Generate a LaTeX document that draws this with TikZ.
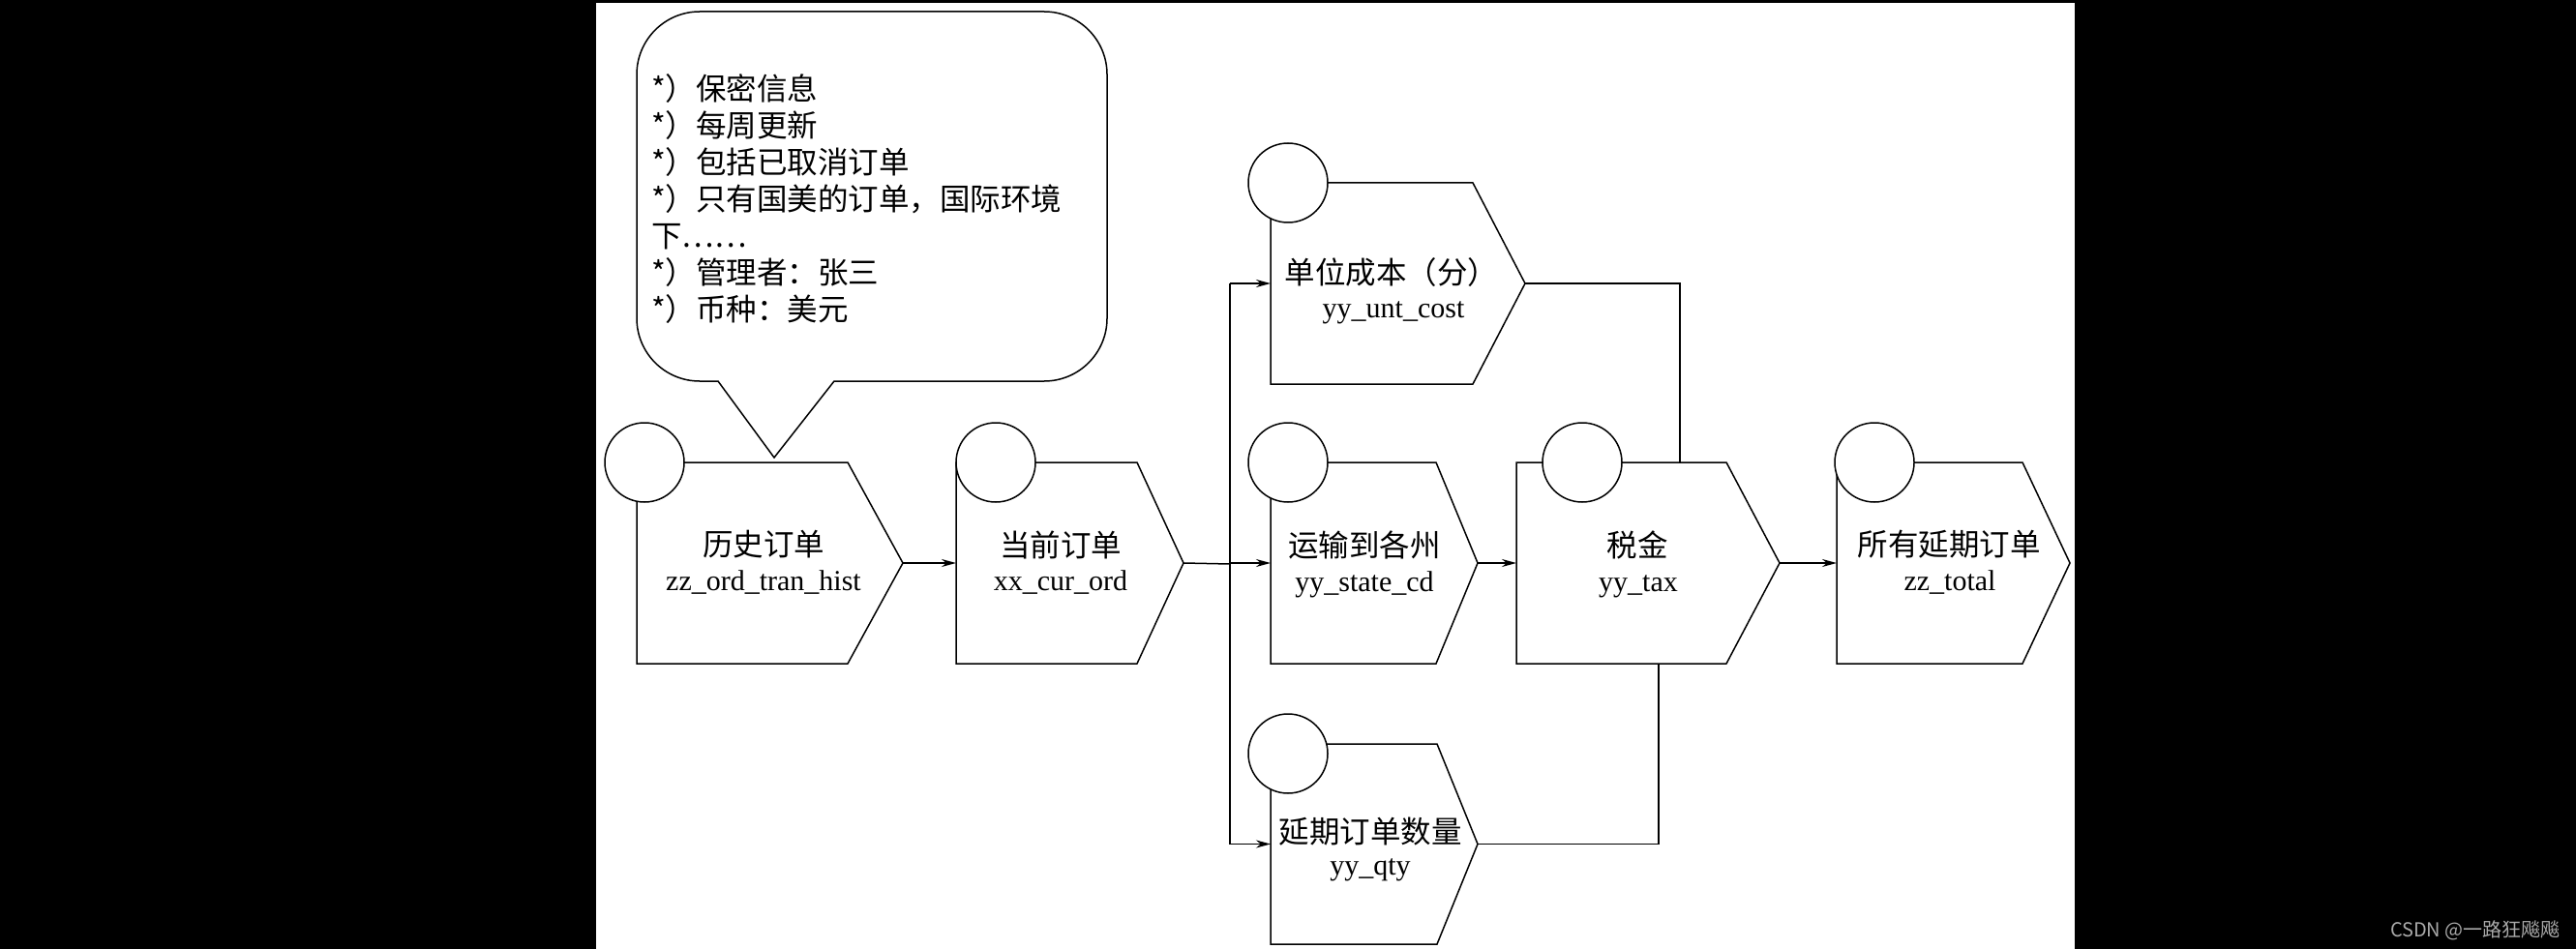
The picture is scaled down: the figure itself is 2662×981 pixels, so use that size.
\documentclass[tikz,border=0pt]{standalone}
\usepackage{fontspec}
\setmainfont{Liberation Serif}
\newfontfamily\cjk{Noto Sans CJK SC}
\usetikzlibrary{arrows.meta}
\definecolor{wmgray}{RGB}{170,170,170}
\tikzset{
  pent/.style={draw=black, line width=1.5pt, fill=white, line join=miter},
  circ/.style={circle, draw=black, line width=1.5pt, fill=white, minimum size=82pt, inner sep=0pt},
  cjkt/.style={font=\cjk\fontsize{31.5}{38}\selectfont, inner sep=0pt},
  latt/.style={font=\fontsize{30}{36}\selectfont, inner sep=0pt, anchor=base},
  conn/.style={line width=1.5pt, draw=black},
  arr/.style={conn, -{Stealth[length=15pt,width=8pt]}},
}
% #1 name, #2 left, #3 top, #4 bottom, #5 top-right x, #6 tip x, #7 circle x, #8 circle y
\newcommand{\mypenta}[8]{%
  \node[inner sep=0pt, outer sep=0pt, minimum width={(#5-#2)*1pt}, minimum height={(#4-#3)*1pt}, anchor=north west] (#1) at (#2,#3) {};
  \draw[pent] (#2,#3) -- (#5,#3) -- (#6,{(#3+#4)/2}) -- (#5,#4) -- (#2,#4) -- cycle;
  \coordinate (#1-tip) at (#6,{(#3+#4)/2});
  \node[circ] (#1-c) at (#7,#8) {};
}
\begin{document}
\begin{tikzpicture}[x=1pt,y=-1pt]
\useasboundingbox (0,0) rectangle (2662,981);
\fill[black] (0,0) rectangle (2662,981);
\fill[white] (616,3) rectangle (2144,981);

% callout bubble
\draw[line width=1.5pt] (742,394) -- (800,473) -- (862,394) -- (1079,394)
  arc[start angle=90,end angle=0,radius=65] -- (1144,77)
  arc[start angle=0,end angle=-90,radius=65] -- (723,12)
  arc[start angle=-90,end angle=-180,radius=65] -- (658,329)
  arc[start angle=180,end angle=90,radius=65] -- cycle;
\node[anchor=north west, inner sep=0pt, align=left, font=\cjk\fontsize{31.5}{38}\selectfont] (note) at (673,76)
  {*）保密信息\\*）每周更新\\*）包括已取消订单\\*）只有国美的订单，国际环境\\下……\\*）管理者：张三\\*）币种：美元};

% pentagon nodes
\mypenta{n1}{658}{478}{686}{876}{933}{666}{478}
\mypenta{n2}{988}{478}{686}{1175}{1223}{1029}{478}
\mypenta{n3}{1313}{189}{397}{1522}{1576}{1331}{189}
\mypenta{n4}{1313}{478}{686}{1484}{1527}{1331}{478}
\mypenta{n5}{1567}{478}{686}{1784}{1839}{1635}{478}
\mypenta{n6}{1313}{769}{976}{1485}{1527}{1331}{779}
\mypenta{n7}{1898}{478}{686}{2090}{2139}{1937}{478}

% labels
\node[cjkt] (n1-a) at (789,563) {历史订单};
\node[latt] (n1-b) at (789,610) {zz\_ord\_tran\_hist};
\node[cjkt] (n2-a) at (1096,563) {当前订单};
\node[latt] (n2-b) at (1096,610) {xx\_cur\_ord};
\node[cjkt] (n3-a) at (1438,282) {单位成本（分）};
\node[latt] (n3-b) at (1440,329) {yy\_unt\_cost};
\node[cjkt] (n4-a) at (1410,563) {运输到各州};
\node[latt] (n4-b) at (1410,611) {yy\_state\_cd};
\node[cjkt] (n5-a) at (1692,563) {税金};
\node[latt] (n5-b) at (1693,611) {yy\_tax};
\node[cjkt] (n6-a) at (1416,860) {延期订单数量};
\node[latt] (n6-b) at (1416,904) {yy\_qty};
\node[cjkt] (n7-a) at (2014,563) {所有延期订单};
\node[latt] (n7-b) at (2015,610) {zz\_total};

% connectors
\coordinate (bus) at (1271,583);
\coordinate (t5) at (1736,478);
\coordinate (b5) at (1714,686);
\draw[arr] (n1-tip) -- (n2.west);
\draw[conn] (n2-tip) -- (bus);
\draw[conn] (bus |- n3.west) -- (bus |- n6.west);
\draw[arr] (bus |- n3.west) -- (n3.west);
\draw[arr] (bus |- n4.west) -- (n4.west);
\draw[arr] (bus |- n6.west) -- (n6.west);
\draw[arr] (n4-tip) -- (n5.west);
\draw[conn] (n3-tip) -| (t5);
\draw[conn] (n6-tip) -| (b5);
\draw[arr] (n5-tip) -- (n7.west);

% watermark
\node[anchor=east, inner sep=0pt, text=wmgray, font=\cjk\fontsize{20}{20}\selectfont] (wm) at (2646,962) {CSDN @一路狂飚飚};
\end{tikzpicture}
\end{document}
